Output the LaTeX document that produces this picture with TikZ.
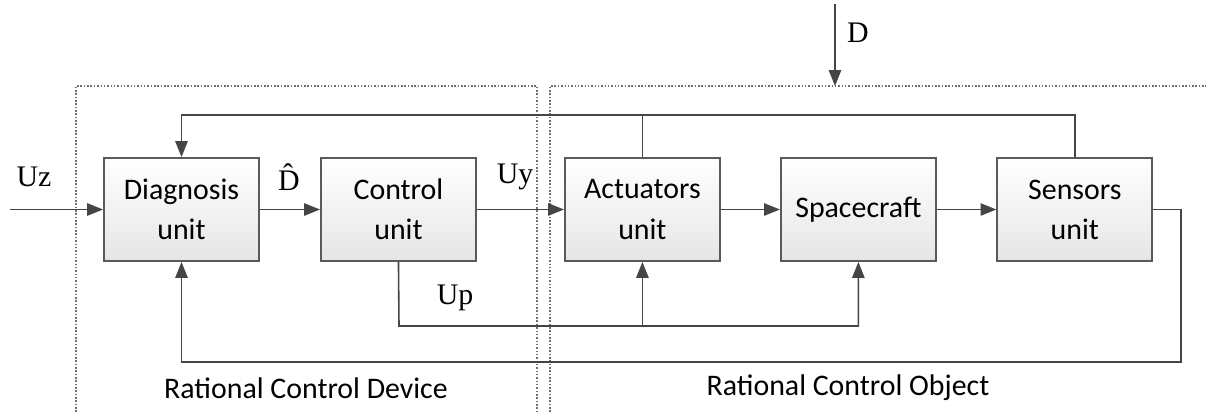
\documentclass[tikz,border=0pt]{standalone}
\usepackage{fontspec}
\setmainfont{Liberation Serif}
\newfontfamily\boxfont{Carlito}
\usetikzlibrary{arrows.meta,positioning}
\definecolor{linegray}{HTML}{454545}
\definecolor{boxgray}{HTML}{5A5A5A}
\definecolor{regiongray}{HTML}{707070}
\tikzstyle{unitbox}=[rectangle,draw=boxgray,line width=1.1pt,top color=white,bottom color=black!10,
  minimum width=3.1cm,minimum height=2.06cm,inner sep=0pt,align=center,
  font=\boxfont\fontsize{17}{22.8}\selectfont]
\tikzstyle{sig}=[font=\fontsize{17}{20}\selectfont,inner sep=0pt]
\tikzstyle{region}=[draw=regiongray,densely dotted,line width=0.9pt]

\begin{document}
\begin{tikzpicture}[x=0.02cm,y=-0.02cm,>={Triangle[length=9pt,width=7pt]},line width=0.9pt,draw=linegray]
  \useasboundingbox (0,0) rectangle (1206,412);
  % regions
  \draw[region] (76,412) |- (537,86) -- (537,412);
  \draw[region] (550,412) |- (1210,86);
  \node[font=\boxfont\fontsize{17}{20}\selectfont] (devname) at (306,388){Rational Control Device};
  \node[font=\boxfont\fontsize{17}{20}\selectfont] (objname) at (848,388){Rational Control Object};
  % units
  \node[unitbox] (diag) at (181.5,209.5){Diagnosis\\unit};
  \node[unitbox,right of=diag,node distance=43.4mm] (ctrl){Control\\unit};
  \node[unitbox,right of=ctrl,node distance=48.8mm] (act){Actuators\\unit};
  \node[unitbox,right of=act,node distance=43.2mm] (spc){Spacecraft};
  \node[unitbox,right of=spc,node distance=43.3mm] (sens){Sensors\\unit};
  % free ends
  \coordinate (uzin) at (10,209.5);
  \coordinate (dtop) at (835,4);
  \coordinate (dtip) at (835,86);
  \coordinate (upbus) at (399,326);
  \coordinate (fbright) at (1181,362);
  % forward path
  \draw[->] (uzin)--(diag);
  \draw[->] (diag)--(ctrl);
  \draw[->] (ctrl)--(act);
  \draw[->] (act)--(spc);
  \draw[->] (spc)--(sens);
  \draw[->] (dtop)--(dtip);
  % feedback
  \draw[->] (sens.north)--++(0,-42) -| (diag.north);
  \draw (act.north)--++(0,-42);
  \draw[->] (sens.east) -| (fbright) -| (diag.south);
  \draw[->] (ctrl.south)--(upbus) -| (spc.south);
  \draw[->] (act.south |- upbus)--(act.south);
  % signals
  \node[sig] (uz) at (34,177){Uz};
  \node[sig] (dhat) at (289,177){\^D};
  \node[sig] (uy) at (515,177){Uy};
  \node[sig] (up) at (455,298){Up};
  \node[sig] (d) at (858,33){D};
\end{tikzpicture}
\end{document}
